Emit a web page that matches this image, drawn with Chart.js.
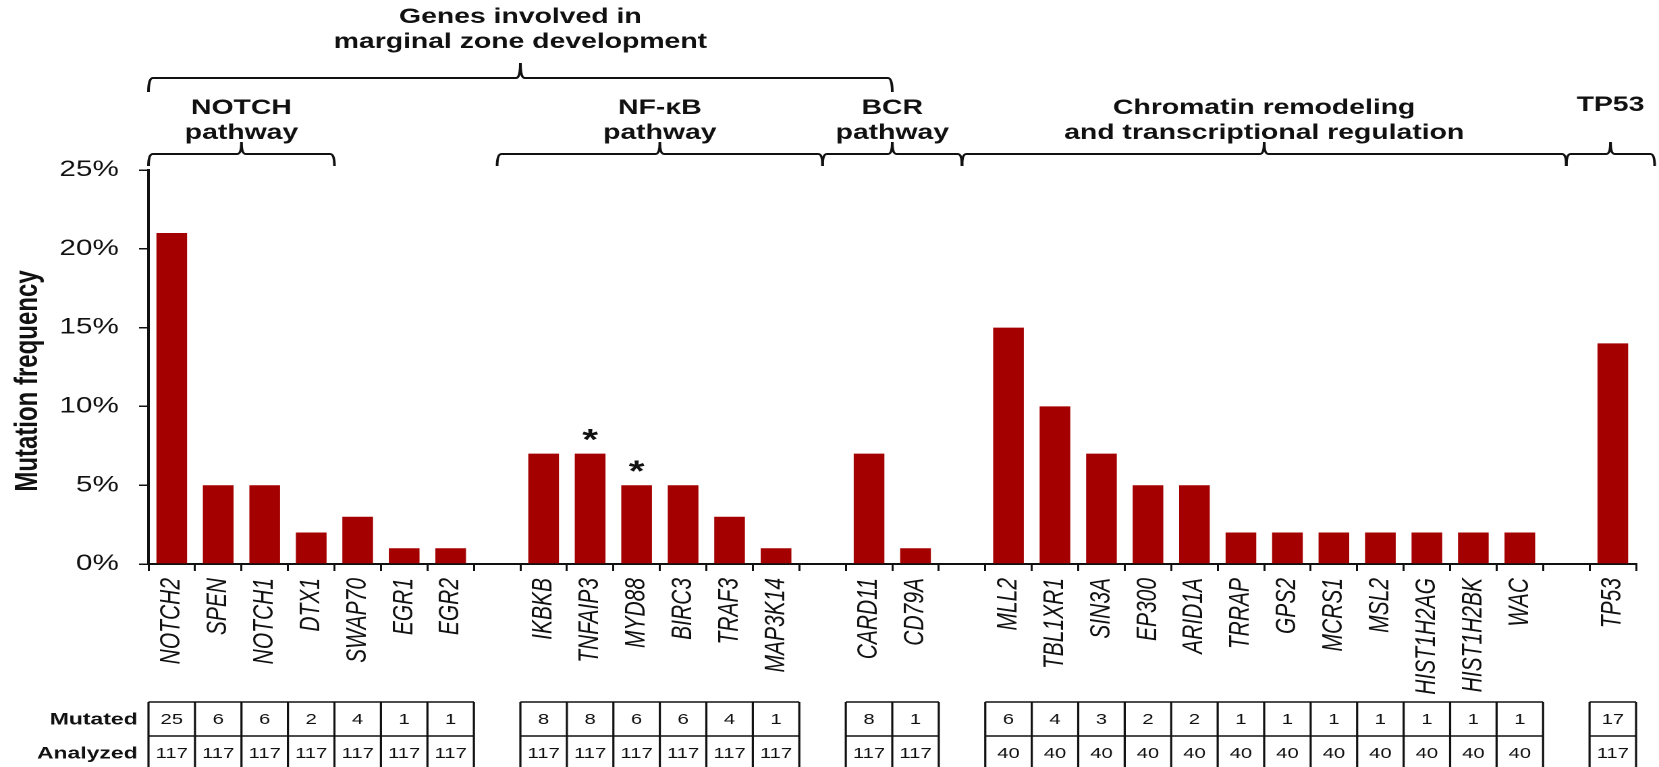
<!DOCTYPE html>
<html>
<head>
<meta charset="utf-8">
<script src="https://cdn.jsdelivr.net/npm/chart.js@4.4.0/dist/chart.umd.min.js"></script>
<style>
  html, body { margin: 0; padding: 0; background: #fff; overflow: hidden; }
  canvas { display: block; }
</style>
</head>
<body>
<!-- drawn on a narrower logical canvas and widened by CSS, giving the wide lettering of the figure -->
<canvas id="chart" width="1229" height="767" style="width:1659px;height:767px"></canvas>
<script>
// ---- data ----
const genes = ['NOTCH2', 'SPEN', 'NOTCH1', 'DTX1', 'SWAP70', 'EGR1', 'EGR2', '',
  'IKBKB', 'TNFAIP3', 'MYD88', 'BIRC3', 'TRAF3', 'MAP3K14', '',
  'CARD11', 'CD79A', '',
  'MLL2', 'TBL1XR1', 'SIN3A', 'EP300', 'ARID1A', 'TRRAP', 'GPS2', 'MCRS1', 'MSL2', 'HIST1H2AG', 'HIST1H2BK', 'WAC', '',
  'TP53'];
const frequency = [21, 5, 5, 2, 3, 1, 1, null,
  7, 7, 5, 5, 3, 1, null,
  7, 1, null,
  15, 10, 7, 5, 5, 2, 2, 2, 2, 2, 2, 2, null,
  14];
const mutated = [25, 6, 6, 2, 4, 1, 1, null,
  8, 8, 6, 6, 4, 1, null,
  8, 1, null,
  6, 4, 3, 2, 2, 1, 1, 1, 1, 1, 1, 1, null,
  17];
const analyzed = [117, 117, 117, 117, 117, 117, 117, null,
  117, 117, 117, 117, 117, 117, null,
  117, 117, null,
  40, 40, 40, 40, 40, 40, 40, 40, 40, 40, 40, 40, null,
  117];
const yTickValues = [0, 5, 10, 15, 20, 25];
const yTitle = 'Mutation frequency';
const starredGenes = ['TNFAIP3', 'MYD88'];
const rowLabels = ['Mutated', 'Analyzed'];
const titleLines = ['Genes involved in', 'marginal zone development'];
const groupNames = [
  ['NOTCH', 'pathway'],
  ['NF-\u03BAB', 'pathway'],
  ['BCR', 'pathway'],
  ['Chromatin remodeling', 'and transcriptional regulation'],
  ['TP53']
];

// ---- drawing ----
const FONT = '"Liberation Sans", Arial, Helvetica, sans-serif';
const BAR = '#a50000';
const INK = '#111';
Chart.defaults.font.family = FONT;
Chart.defaults.color = INK;

// pixel of a (fractional) category position; i = centre of category i
function catPos(xs, t) {
  const c0 = xs.getPixelForValue(0);
  const step = xs.getPixelForValue(1) - c0;
  return c0 + t * step;
}

function drawBrace(ctx, x1, x2, xm, y, drop, rise) {
  const r = 3.2;
  ctx.beginPath();
  ctx.moveTo(x1, y + drop);
  ctx.quadraticCurveTo(x1, y, x1 + r, y);
  ctx.lineTo(xm - r, y);
  ctx.quadraticCurveTo(xm, y, xm, y - rise);
  ctx.quadraticCurveTo(xm, y, xm + r, y);
  ctx.lineTo(x2 - r, y);
  ctx.quadraticCurveTo(x2, y, x2, y + drop);
  ctx.stroke();
}

const bracePlugin = {
  id: 'braces',
  afterDraw(chart) {
    const ctx = chart.ctx;
    const xs = chart.scales.x;
    // [from, to] in category units, brace line y, end drop, middle rise, text baselines
    const braces = [
      { span: [-0.5, 15.5], y: 78, drop: 14, rise: 15, lines: titleLines, base: [23, 48] },
      { span: [-0.5, 3.5], y: 154, drop: 12, rise: 12, lines: groupNames[0], base: [114, 139] },
      { span: [7, 14], y: 154, drop: 12, rise: 12, lines: groupNames[1], base: [114, 139] },
      { span: [14, 17], y: 154, drop: 12, rise: 12, lines: groupNames[2], base: [114, 139] },
      { span: [17, 30], y: 154, drop: 12, rise: 12, lines: groupNames[3], base: [114, 139] },
      { span: [30, 31.9], y: 154, drop: 12, rise: 12, lines: groupNames[4], base: [111] }
    ];
    ctx.save();
    ctx.strokeStyle = INK;
    ctx.lineWidth = 2;
    ctx.fillStyle = INK;
    ctx.font = 'bold 21px ' + FONT;
    ctx.textAlign = 'center';
    ctx.textBaseline = 'alphabetic';
    braces.forEach(b => {
      const x1 = catPos(xs, b.span[0]);
      const x2 = catPos(xs, b.span[1]);
      const xm = (x1 + x2) / 2;
      drawBrace(ctx, x1, x2, xm, b.y, b.drop, b.rise);
      b.lines.forEach((t, k) => ctx.fillText(t, xm, b.base[k]));
    });
    // value-axis caption
    ctx.save();
    ctx.translate(21, 381);
    ctx.rotate(-Math.PI / 2);
    ctx.font = 'bold 24px ' + FONT;
    ctx.textBaseline = 'middle';
    ctx.fillText(yTitle, 0, 0);
    ctx.restore();
    ctx.restore();
  }
};

const starPlugin = {
  id: 'stars',
  afterDatasetsDraw(chart) {
    const ctx = chart.ctx;
    const meta = chart.getDatasetMeta(0);
    ctx.save();
    ctx.fillStyle = INK;
    ctx.font = 'bold 30px ' + FONT;
    ctx.textAlign = 'center';
    ctx.textBaseline = 'alphabetic';
    const m = ctx.measureText('*');
    const mid = (m.actualBoundingBoxAscent - m.actualBoundingBoxDescent) / 2;
    starredGenes.forEach(g => {
      const bar = meta.data[genes.indexOf(g)];
      ctx.fillText('*', bar.x, bar.y - 18 + mid);
    });
    ctx.restore();
  }
};

const tablePlugin = {
  id: 'countTable',
  afterDraw(chart) {
    const ctx = chart.ctx;
    const xs = chart.scales.x;
    const rows = [mutated, analyzed];
    const top = 702, rowH = 34;
    ctx.save();
    ctx.strokeStyle = INK;
    ctx.lineWidth = 1.6;
    ctx.fillStyle = INK;
    // row captions
    ctx.font = 'bold 17px ' + FONT;
    ctx.textAlign = 'right';
    ctx.textBaseline = 'middle';
    rowLabels.forEach((t, r) => ctx.fillText(t, chart.chartArea.left - 8, top + rowH * r + rowH / 2 + 1));
    // contiguous runs of genes form separate boxes
    let i = 0;
    while (i < genes.length) {
      if (mutated[i] == null) { i++; continue; }
      let j = i;
      while (j + 1 < genes.length && mutated[j + 1] != null) j++;
      const x1 = catPos(xs, i - 0.5), x2 = catPos(xs, j + 0.5);
      ctx.beginPath();
      for (let r = 0; r <= 2; r++) {
        ctx.moveTo(x1, top + rowH * r);
        ctx.lineTo(x2, top + rowH * r);
      }
      for (let k = i; k <= j + 1; k++) {
        const x = catPos(xs, k - 0.5);
        ctx.moveTo(x, top);
        ctx.lineTo(x, top + rowH * 2);
      }
      ctx.stroke();
      ctx.font = '15px ' + FONT;
      ctx.textAlign = 'center';
      for (let k = i; k <= j; k++) {
        rows.forEach((arr, r) => ctx.fillText(String(arr[k]), catPos(xs, k), top + rowH * r + rowH / 2 + 1));
      }
      i = j + 1;
    }
    ctx.restore();
  }
};

new Chart(document.getElementById('chart'), {
  type: 'bar',
  data: {
    labels: genes,
    datasets: [{
      data: frequency,
      backgroundColor: BAR,
      borderWidth: 0,
      barPercentage: 0.66,
      categoryPercentage: 1.0
    }]
  },
  options: {
    responsive: false,
    devicePixelRatio: 2,
    animation: false,
    layout: { padding: { top: 170, right: 17, left: 0, bottom: 0 } },
    plugins: { legend: { display: false }, tooltip: { enabled: false } },
    scales: {
      x: {
        offset: true,
        grid: { offset: true, drawOnChartArea: false, drawTicks: true, tickLength: 7, color: INK, lineWidth: 1.5 },
        border: { display: true, color: INK, width: 2 },
        ticks: {
          autoSkip: false, maxRotation: 90, minRotation: 90, padding: 7,
          color: INK, font: { size: 21, style: 'italic' }
        },
        afterFit(scale) { scale.height = 203; }
      },
      y: {
        min: 0, max: 25,
        afterBuildTicks(scale) { scale.ticks = yTickValues.map(v => ({ value: v })); },
        grid: { drawOnChartArea: false, drawTicks: true, tickLength: 7, color: INK, lineWidth: 1.5 },
        border: { display: true, color: INK, width: 2 },
        ticks: { padding: 15, color: INK, font: { size: 22 }, callback: v => v + '%' },
        afterFit(scale) { scale.width = 110; }
      }
    }
  },
  plugins: [bracePlugin, starPlugin, tablePlugin]
});
</script>
</body>
</html>
